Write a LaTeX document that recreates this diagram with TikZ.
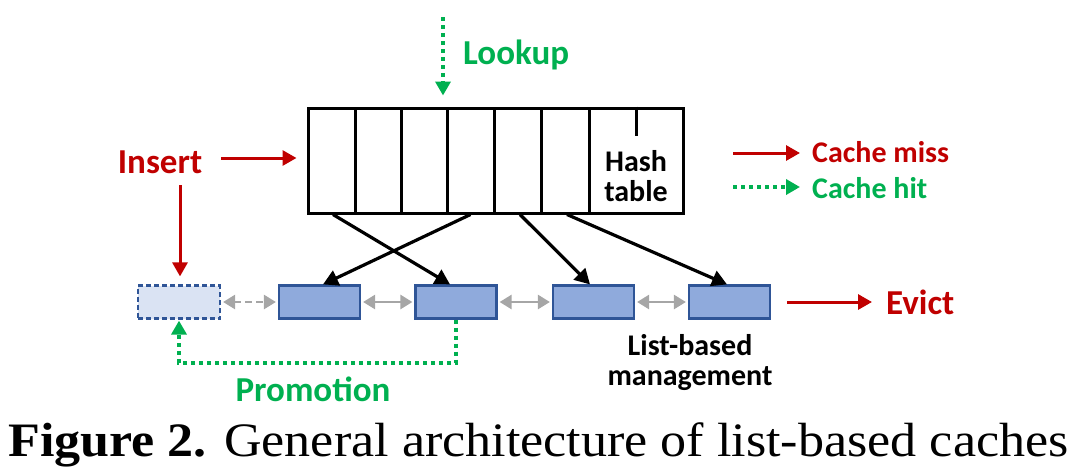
\documentclass[tikz,border=0pt]{standalone}
\usepackage{fontspec}
\setmainfont{Carlito}
\newfontfamily\capfont{Liberation Serif}
\usetikzlibrary{arrows.meta,calc}
\definecolor{cmred}{HTML}{C00000}
\definecolor{chgreen}{HTML}{00B050}
\definecolor{boxfill}{HTML}{8FAADC}
\definecolor{boxline}{HTML}{2F5597}
\definecolor{newfill}{HTML}{DAE3F3}
\definecolor{linkgray}{HTML}{A6A6A6}
\tikzset{
  cell/.style={draw=black, line width=3pt, minimum height=105pt, inner sep=0pt},
  listbox/.style={draw=boxline, fill=boxfill, line width=2.2pt, minimum width=81pt, minimum height=33pt, inner sep=0pt},
  newbox/.style={draw=boxline, fill=newfill, line width=2.2pt, dash pattern=on 5pt off 3pt, minimum width=82pt, minimum height=33pt, inner sep=0pt},
  missarrow/.style={draw=cmred, line width=3pt, -{Triangle[length=14pt,width=15pt]}},
  hitarrow/.style={draw=chgreen, line width=4pt, dash pattern=on 4pt off 4pt, -{Triangle[length=14pt,width=15pt]}},
  ptrarrow/.style={draw=black, line width=3.2pt, -{Triangle[length=15pt,width=16pt]}},
  linkarrow/.style={draw=linkgray, line width=2.6pt, {Triangle[length=12pt,width=14pt]}-{Triangle[length=12pt,width=14pt]}},
  bigred/.style={text=cmred, font=\fontsize{35}{38}\selectfont\bfseries, inner sep=0pt},
  biggreen/.style={text=chgreen, font=\fontsize{35}{38}\selectfont\bfseries, inner sep=0pt},
  legred/.style={text=cmred, font=\fontsize{30}{32}\selectfont\bfseries, inner sep=0pt, anchor=west},
  leggreen/.style={text=chgreen, font=\fontsize{30}{32}\selectfont\bfseries, inner sep=0pt, anchor=west},
  blacklabel/.style={text=black, font=\fontsize{30}{33}\selectfont\bfseries, inner sep=0pt, align=center},
}
\begin{document}
\begin{tikzpicture}[x=1pt,y=-1pt]
\useasboundingbox (0,0) rectangle (1077,475);
% hash table cells
\node[cell, minimum width=47pt] (c1) at (331.5,160.5) {};
\node[cell, minimum width=46pt] (c2) at (378,160.5) {};
\node[cell, minimum width=46pt] (c3) at (424,160.5) {};
\node[cell, minimum width=47pt] (c4) at (470.5,160.5) {};
\node[cell, minimum width=47pt] (c5) at (517.5,160.5) {};
\node[cell, minimum width=48pt] (c6) at (565,160.5) {};
\node[cell, minimum width=94pt] (c7) at (636,160.5) {};
\draw[line width=3pt] (c7.north) -- ++(0,29);
\node[blacklabel] (htl) at (636,176) {Hash\\[-3pt]table};
% list
\node[newbox] (d) at (179,302) {};
\node[listbox] (b1) at (319.5,302) {};
\node[listbox] (b2) at (456,302) {};
\node[listbox] (b3) at (593.5,302) {};
\node[listbox] (b4) at (729.5,302) {};
\draw[linkarrow, dash pattern=on 7pt off 4pt] ([xshift=2pt]d.east) -- ([xshift=-2pt]b1.west);
\draw[linkarrow] ([xshift=2pt]b1.east) -- ([xshift=-2pt]b2.west);
\draw[linkarrow] ([xshift=2pt]b2.east) -- ([xshift=-2pt]b3.west);
\draw[linkarrow] ([xshift=2pt]b3.east) -- ([xshift=-2pt]b4.west);
% pointers
\draw[ptrarrow] ([xshift=1.5pt]c1.south) -- ([xshift=-6pt]b2.north);
\draw[ptrarrow] (c4.south) -- ([xshift=3.5pt]b1.north);
\draw[ptrarrow] ([xshift=2.5pt]c5.south) -- ([xshift=-3.5pt]b3.north);
\draw[ptrarrow] ([xshift=2pt]c6.south) -- ([xshift=-2.5pt]b4.north);
% lookup
\coordinate (lk) at (443,17);
\draw[hitarrow] (lk) -- ([yshift=11pt]lk |- c3.north);
\node[biggreen, anchor=west] (lookup) at (463,55) {Lookup};
% insert
\node[bigred] (ins) at (160,162) {Insert};
\draw[missarrow] ([xshift=19pt,yshift=4pt]ins.east) -- ([xshift=-10pt,yshift=4pt]ins.east -| c1.west);
\coordinate (insd) at (180,185);
\draw[missarrow] (insd) -- ([yshift=8pt]insd |- d.north);
% promotion
\draw[hitarrow] (b2.south) -- ++(0,43) -| ([yshift=-1pt]d.south);
\node[biggreen] (promo) at (313,389) {Promotion};
% evict
\coordinate (ev) at (872,302);
\draw[missarrow] ([xshift=16pt]b4.east) -- (ev);
\node[bigred, anchor=west] (evict) at (886,302) {Evict};
% list label
\node[blacklabel] (lbl) at (690,363) {List-based\\[-3pt]management};
% legend
\coordinate (m1) at (733,153);
\coordinate (m2) at (800,153);
\draw[missarrow] (m1) -- (m2);
\node[legred] (miss) at (812,152) {Cache miss};
\coordinate (h1) at (733,187);
\coordinate (h2) at (800,187);
\draw[hitarrow] (h1) -- (h2);
\node[leggreen] (hit) at (812,188) {Cache hit};
% caption
\node[anchor=west, inner sep=0pt, font=\capfont\fontsize{48}{50}\selectfont] (cap) at (8,445) {\scalebox{1.085}[1]{\textbf{Figure 2.} General architecture of list-based caches}};
\end{tikzpicture}
\end{document}
